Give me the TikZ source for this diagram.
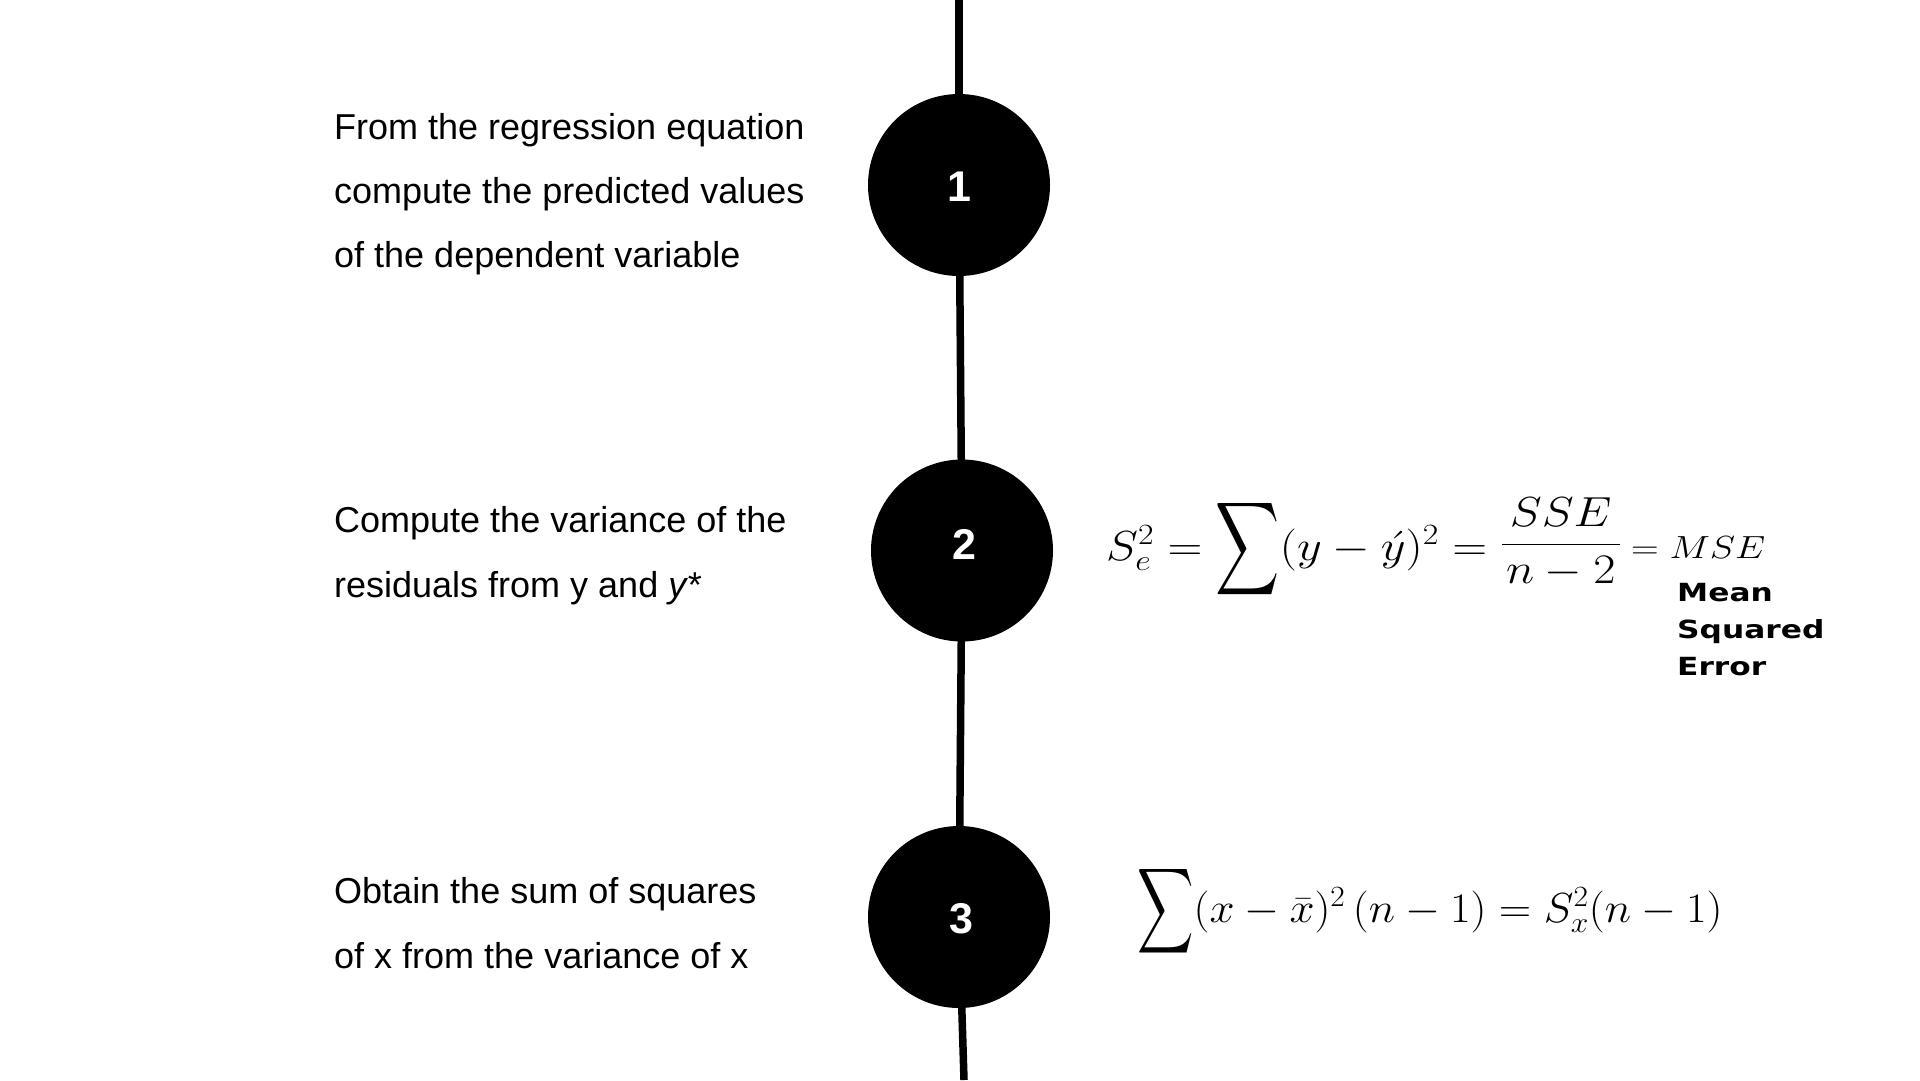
\RequirePackage{fix-cm}
\documentclass[tikz,border=0pt]{standalone}
\usepackage{amsmath}
\usepackage{graphicx}
\DeclareFontShape{OMX}{cmex}{m}{n}{<->cmex10}{}
\usepackage[no-math]{fontspec}
\newfontfamily\arialf{Liberation Sans}
\newfontfamily\dejaf{DejaVu Sans}
\newcommand{\bsum}[2]{\mathop{\vcenter{\hbox{\scalebox{#1}[#2]{$\displaystyle\sum$}}}}}
\begin{document}
\begin{tikzpicture}[x=1pt,y=-1pt,
  txt/.style={font=\arialf\fontsize{36}{42}\selectfont, anchor=base west, inner sep=0pt},
  dot/.style={circle, fill=black, minimum size=182pt, inner sep=0pt},
  num/.style={font=\arialf\bfseries\fontsize{43}{50}\selectfont, text=white, anchor=base, inner sep=0pt},
  eq/.style={font=\fontsize{42}{50}\selectfont, anchor=base west, inner sep=0pt},
  mse/.style={font=\fontsize{32}{38}\selectfont, anchor=base west, inner sep=0pt},
  lbl/.style={font=\dejaf\bfseries\fontsize{25}{30}\selectfont, anchor=base west, inner sep=0pt},
  spine/.style={line width=7.5pt, black}]
\useasboundingbox (0,0) rectangle (1920,1080);
\fill[white] (0,0) rectangle (1920,1080);
% timeline
\coordinate (top) at (959,0);
\coordinate (bot) at (964,1080);
\node[dot] (c1) at (959,185) {};
\node[dot] (c2) at (962,550.5) {};
\node[dot] (c3) at (959,917) {};
\draw[spine] (top) -- (c1.center);
\draw[spine] (c1.center) -- (c2.center);
\draw[spine] (c2.center) -- (c3.center);
\draw[spine] (c3.center) -- (bot);
\node[num] (n1) at (959,201.5) {1};
\node[num] (n2) at (964.5,559) {2};
\node[num] (n3) at (961,933.5) {3};
% left texts
\node[txt] (t1a) at (334,139) {From the regression equation};
\node[txt] (t1b) at (334,203) {compute the predicted values};
\node[txt] (t1c) at (334,267) {of the dependent variable};
\node[txt] (t2a) at (334,532) {Compute the variance of the};
\node[txt] (t2b) at (334,597) {residuals from y and \textit{y*}};
\node[txt] (t3a) at (334,903) {Obtain the sum of squares};
\node[txt] (t3b) at (334,968) {of x from the variance of x};
% equations
\node[eq] (e2) at (1106,560) {\scalebox{1.15}[1]{$S_e^2 = \bsum{0.92}{1.55}(y - \acute{y})^2 = \raisebox{5pt}{$\displaystyle\frac{\,SSE\,}{n-2}$}$}};
\node[mse] (m2) at (1631,558) {\scalebox{1.2}[1]{$= MSE$}};
\node[lbl] (l1) at (1677,601) {\scalebox{1.25}[1]{Mean}};
\node[lbl] (l2) at (1677,638) {\scalebox{1.25}[1]{Squared}};
\node[lbl] (l3) at (1677,675) {\scalebox{1.25}[1]{Error}};
\node[eq] (e3) at (1137,922) {\scalebox{1.07}[1]{$\bsum{0.87}{1.42}(x - \bar{x})^2\,(n-1) = S_x^2(n-1)$}};
\end{tikzpicture}
\end{document}
